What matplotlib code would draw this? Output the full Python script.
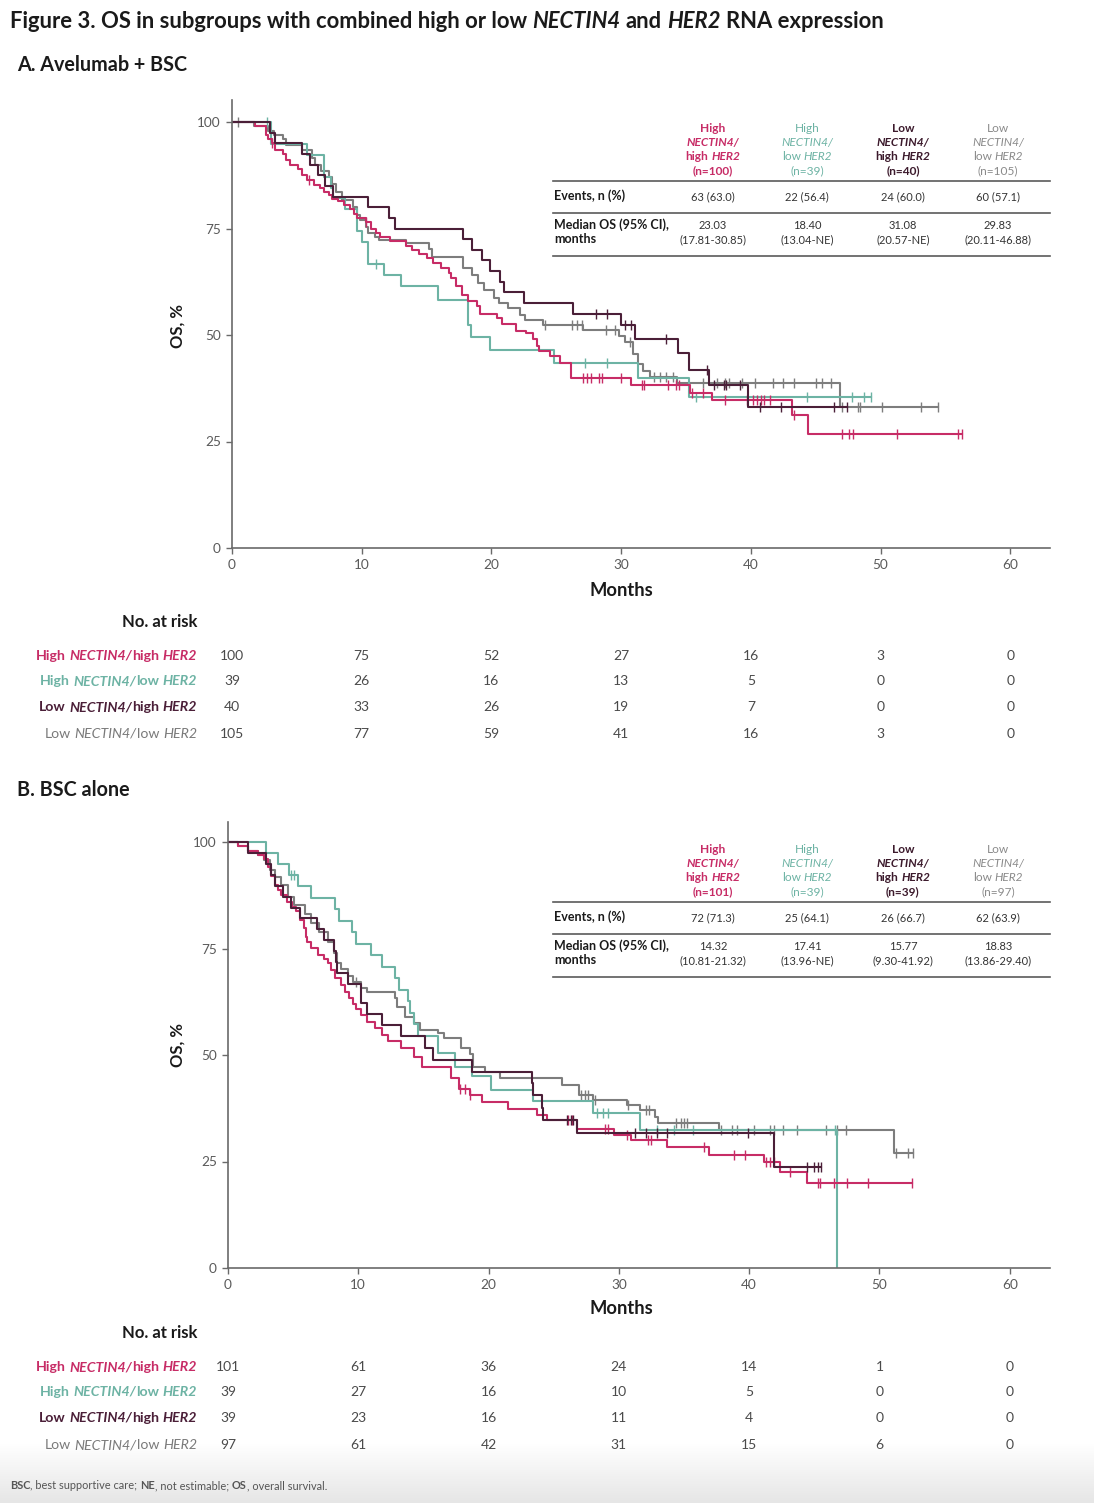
import numpy as np
import matplotlib
matplotlib.use("Agg")
import matplotlib.pyplot as plt
from matplotlib.transforms import IdentityTransform
from matplotlib.lines import Line2D
from matplotlib.colors import LinearSegmentedColormap

W, H = 1094, 1503
FONT = "Lato"

RED, TEAL, DARK, GRAY = "#c72c66", "#6db3a4", "#4b1f38", "#7d7d7d"
HEAD_COLORS = ["#c72c66", "#6db3a4", "#3c1a2c", "#8a8a8a"]
HEAD_WEIGHT = ["b", "", "b", ""]

# ---------------- Panel A (avelumab + BSC) ----------------
A_RED_T = [0, 1.8, 2.6, 2.8, 3.1, 3.3, 3.9, 4.2, 4.5, 5.1, 5.4, 5.8, 6.3, 6.8, 7.1, 7.5, 7.7, 8.2, 8.6, 9.1,
           9.4, 9.6, 10.3, 10.7, 11.1, 11.4, 12.2, 13.4, 13.9, 14.4, 15.0, 15.5, 16.1, 16.7, 16.9, 17.3, 17.7,
           18.2, 18.9, 19.1, 20.4, 20.8, 21.9, 22.7, 23.2, 23.5, 23.7, 24.5, 25.3, 26.1, 30.8, 35.3, 37.0, 43.2, 44.4]
A_RED_S = [100, 99, 97, 96, 95, 93.5, 92.5, 91, 90, 89, 87.5, 86.5, 85.3, 84.5, 83.5, 82.8, 82, 81.5, 80.5, 79.5,
           78.5, 77.5, 76.5, 75, 74, 73, 72, 71, 70, 69, 68, 67, 65.8, 64.5, 63.3, 61.5, 59.5,
           58, 56.8, 55, 54, 52.5, 51, 50.5, 49, 47.5, 46.2, 45, 43.5, 39.8, 38.3, 36.5, 34.7, 31.2, 26.8]
A_RED_CENS = [3.1, 5.9, 10.3, 27.1, 27.4, 27.7, 28.3, 28.5, 30.0, 31.6, 31.8, 33.6, 34.2, 34.5, 35.5, 36.3, 38.0,
              39.7, 40.2, 40.5, 40.8, 41.0, 41.5, 43.3, 47.0, 47.6, 47.9, 51.3, 56.0, 56.3]
A_RED_END = 56.3

A_TEAL_T = [0, 3.0, 5.8, 7.1, 7.6, 7.8, 8.7, 9.6, 10.0, 10.5, 11.7, 13.0, 15.9, 18.2, 18.4, 19.9, 24.8, 31.3, 35.2]
A_TEAL_S = [100, 94.9, 92.3, 87.2, 84.6, 82.1, 79.5, 74.4, 71.8, 66.7, 64.1, 61.5, 58.2, 52.4, 49.6, 46.5, 43.4,
            39.8, 35.5]
A_TEAL_CENS = [2.7, 11.1, 27.2, 28.9, 35.8, 44.3, 47.8, 48.7, 49.3]
A_TEAL_END = 49.3

A_DARK_T = [0, 2.9, 3.3, 5.4, 6.0, 6.6, 7.2, 7.8, 10.5, 12.1, 12.6, 17.8, 18.5, 19.3, 19.9, 20.7, 21.0, 22.5,
            26.3, 30.0, 31.1, 34.4, 35.2, 36.8, 39.8]
A_DARK_S = [100, 97.5, 95, 92.5, 90, 87.5, 85, 82.5, 80, 77.5, 75, 72.5, 70, 67.5, 65, 62.5, 60, 57.5,
            55, 52.3, 49.0, 45.7, 41.8, 38.3, 33.2]
A_DARK_CENS = [28.1, 28.9, 30.3, 30.8, 33.5, 36.6, 37.2, 37.9, 38.1, 39.2, 40.7, 42.3, 46.4, 47.4]
A_DARK_END = 47.4

A_GRAY_T = [0, 1.7, 2.8, 3.2, 3.9, 4.2, 5.4, 6.2, 6.4, 6.9, 7.5, 7.7, 8.0, 8.5, 9.3, 9.6, 9.9, 10.3, 10.5, 11.0,
            11.3, 13.4, 15.2, 15.4, 17.8, 18.5, 19.0, 19.4, 20.2, 20.6, 21.3, 22.2, 22.6, 24.0, 27.1, 29.8, 30.3,
            30.9, 31.3, 31.7, 32.2, 34.3, 46.9]
A_GRAY_S = [100, 99, 98, 97, 96, 94.6, 93.5, 91.5, 90, 88.5, 87.2, 85.5, 83.6, 81.7, 80, 78.2, 77, 75.4, 73.9, 73,
            72.3, 71.5, 70.3, 68.4, 65.7, 64, 62.2, 60.5, 58.7, 57.5, 56.3, 54.7, 53.5, 52.3, 51.2, 49.8, 48.4,
            45.5, 43.2, 41.5, 40.2, 38.7, 33.2]
A_GRAY_CENS = [0.5, 24.1, 26.2, 26.6, 27.0, 28.8, 29.5, 30.7, 32.5, 33.0, 33.5, 34.0, 36.3, 37.4, 38.0, 38.3, 39.3,
               40.3, 41.7, 42.5, 43.3, 45.0, 45.5, 46.2, 47.0, 48.3, 48.4, 50.1, 53.1, 54.4]
A_GRAY_END = 54.4

# ---------------- Panel B (BSC alone) ----------------
B_RED_T = [0, 0.8, 1.5, 2.3, 2.8, 3.1, 3.3, 3.6, 3.8, 4.1, 4.5, 4.9, 5.2, 5.5, 5.8, 6.0, 6.1, 6.4, 6.9, 7.4,
           7.7, 7.9, 8.2, 8.7, 9.0, 9.3, 9.6, 9.8, 10.2, 10.7, 11.3, 11.8, 12.3, 13.3, 14.3, 14.9, 17.1, 17.7,
           18.6, 19.5, 21.5, 23.7, 24.5, 26.8, 29.6, 30.9, 33.7, 36.9, 41.1, 42.4, 44.4]
B_RED_S = [100, 99, 98, 97, 96, 94.2, 92, 90, 88.7, 87.5, 86, 84.8, 83.7, 81.7, 79.7, 77.8, 76.5, 75.1, 73.5, 72.5,
           71.5, 70, 68, 66.4, 64.8, 63.3, 62, 60.9, 59.4, 57.8, 56.3, 54.7, 53.2, 51.6, 49.6, 47.2, 44.5, 42.0,
           40.6, 39.0, 37.3, 35.9, 34.7, 32.6, 31.2, 30.1, 28.5, 26.5, 24.9, 22.6, 19.9]
B_RED_CENS = [17.8, 18.2, 18.6, 26.1, 26.4, 28.9, 29.2, 30.6, 32.2, 32.5, 36.5, 38.8, 39.7, 41.3, 41.6, 41.9,
              43.1, 45.3, 45.4, 46.5, 47.5, 49.1, 52.5]
B_RED_END = 52.5

B_TEAL_T = [0, 2.9, 3.8, 4.7, 5.4, 6.4, 8.2, 8.5, 9.5, 9.8, 11.0, 11.8, 12.8, 13.1, 13.8, 14.0, 14.3, 14.6, 16.1,
            17.4, 18.7, 20.2, 23.4, 28.0, 31.6, 46.7]
B_TEAL_S = [100, 97.4, 94.9, 92.3, 89.6, 86.9, 84.2, 81.5, 78.8, 76.1, 73.4, 70.7, 68.0, 65.3, 62.6, 59.9, 57.2,
            54.5, 50.4, 47.3, 45.0, 41.8, 39.1, 36.3, 32.4, 0]
B_TEAL_CENS = [4.8, 5.1, 28.3, 28.8, 29.2, 32.9, 34.2, 35.7, 46.6]
B_TEAL_END = 46.7

B_DARK_T = [0, 1.5, 2.9, 3.3, 3.6, 4.2, 4.8, 5.5, 6.8, 7.4, 8.1, 8.3, 8.4, 9.2, 10.2, 10.7, 11.8, 13.3, 15.1,
            15.7, 18.7, 23.3, 23.4, 24.1, 24.2, 26.8, 41.9]
B_DARK_S = [100, 97.4, 94.9, 92.3, 89.7, 87.2, 84.6, 82.1, 79.5, 76.9, 74.4, 71.8, 69.2, 66.7, 62.2, 59.7, 57.1,
            54.5, 51.6, 48.8, 46.1, 43.5, 40.5, 37.5, 34.7, 31.6, 23.8]
B_DARK_CENS = [26.0, 26.3, 26.5, 31.2, 32.1, 32.9, 33.7, 39.9, 44.4, 45.0, 45.3, 45.5]
B_DARK_END = 45.5

B_GRAY_T = [0, 0.8, 1.5, 2.3, 2.8, 3.2, 3.6, 4.1, 4.6, 5.1, 5.9, 6.4, 7.0, 7.7, 8.1, 8.4, 8.7, 9.2, 9.6, 10.2,
            10.7, 12.8, 13.0, 13.6, 14.3, 14.7, 16.1, 16.6, 17.9, 18.6, 18.8, 19.7, 20.9, 25.6, 26.9, 28.0, 30.6,
            31.6, 32.8, 33.0, 37.7, 51.1]
B_GRAY_S = [100, 99, 98, 96.9, 95.8, 93.4, 91.9, 90, 87.2, 85.3, 83, 81, 78.9, 76.5, 74, 71.5, 70.3, 68.5, 67.2,
            65.7, 64.9, 63.3, 61.2, 59.0, 57.5, 55.9, 55.1, 53.9, 51.6, 50.2, 47.3, 46.1, 44.5, 43.0, 40.6, 39.4,
            38.3, 37.1, 35.5, 34.0, 32.4, 26.9]
B_GRAY_CENS = [9.8, 27.1, 27.4, 27.6, 28.2, 30.7, 32.1, 32.3, 34.4, 34.8, 35.0, 35.2, 37.8, 38.7, 39.1, 40.4, 41.6,
               41.9, 42.6, 43.7, 45.9, 46.7, 47.4, 51.3, 52.2, 52.6]
B_GRAY_END = 52.6

# ---------------- tables ----------------
RISK_TIMES = [0, 10, 20, 30, 40, 50, 60]
A_RISK = [[100, 75, 52, 27, 16, 3, 0], [39, 26, 16, 13, 5, 0, 0],
          [40, 33, 26, 19, 7, 0, 0], [105, 77, 59, 41, 16, 3, 0]]
B_RISK = [[101, 61, 36, 24, 14, 1, 0], [39, 27, 16, 10, 5, 0, 0],
          [39, 23, 16, 11, 4, 0, 0], [97, 61, 42, 31, 15, 6, 0]]

A_N = [100, 39, 40, 105]
A_EVENTS = ["63 (63.0)", "22 (56.4)", "24 (60.0)", "60 (57.1)"]
A_MEDIAN = ["23.03", "18.40", "31.08", "29.83"]
A_CI = ["(17.81-30.85)", "(13.04-NE)", "(20.57-NE)", "(20.11-46.88)"]

B_N = [101, 39, 39, 97]
B_EVENTS = ["72 (71.3)", "25 (64.1)", "26 (66.7)", "62 (63.9)"]
B_MEDIAN = ["14.32", "17.41", "15.77", "18.83"]
B_CI = ["(10.81-21.32)", "(13.96-NE)", "(9.30-41.92)", "(13.86-29.40)"]

GROUP_HI = ["High", "High", "Low", "Low"]
GROUP_HER = ["high", "low", "high", "low"]

fig = plt.figure(figsize=(W / 100, H / 100), dpi=100)
renderer = fig.canvas.get_renderer()
ID = IdentityTransform()


def _kw(f, size, family):
    return dict(fontsize=size, family=family,
                fontweight="bold" if "b" in f else "normal",
                fontstyle="italic" if "i" in f else "normal")


def _width(s, kw):
    t = fig.text(0, 0, s, transform=ID, **kw)
    w = t.get_window_extent(renderer).width
    t.remove()
    return w


def _measure(parts, size, family):
    out = []
    for s, f in parts:
        kw = _kw(f, size, family)
        sp = _width("x x", kw) - _width("xx", kw)
        core = s.strip()
        lead = (len(s) - len(s.lstrip())) * sp
        trail = (len(s) - len(s.rstrip())) * sp
        w = _width(core, kw) if core else 0
        out.append((core, kw, lead, w, trail))
    return out


def rich(x, y, parts, color="#333", size=9, ha="left", width=None, family=FONT):
    """draw mixed bold/italic text; x, y in pixels from top-left, y is baseline"""
    m = _measure(parts, size, family)
    total = sum(a[2] + a[3] + a[4] for a in m)
    if width:
        size = size * width / total
        m = _measure(parts, size, family)
        total = sum(a[2] + a[3] + a[4] for a in m)
    x0 = x - {"left": 0, "center": total / 2, "right": total}[ha]
    for core, kw, lead, w, trail in m:
        x0 += lead
        if core:
            fig.text(x0, H - y, core, transform=ID, color=color, va="baseline", **kw)
        x0 += w + trail


def hline(x0, x1, y, color="#5a5a5a", lw=1.2):
    fig.add_artist(Line2D([x0, x1], [H - y, H - y], transform=ID, color=color, lw=lw))


def km(ax, t, s, cens, end, color):
    ax.step(list(t) + [end], list(s) + [s[-1]], where="post", color=color, lw=1.5)
    c = np.asarray(cens)
    idx = np.searchsorted(t, c, side="right") - 1
    ax.plot(c, np.asarray(s)[idx], ls="none", marker="|", ms=7, mew=1.0, color=color)


def panel(rect, curves, xmax, ymax):
    ax = fig.add_axes(rect)
    for t, s, c, e, col in curves:
        km(ax, t, s, c, e, col)
    ax.set_xlim(0, xmax)
    ax.set_ylim(0, ymax)
    ax.set_xticks(range(0, 61, 10))
    ax.set_yticks([0, 25, 50, 75, 100])
    for sp in ["top", "right"]:
        ax.spines[sp].set_visible(False)
    for sp in ["left", "bottom"]:
        ax.spines[sp].set_color("#6a6a6a")
        ax.spines[sp].set_linewidth(1.2)
    ax.tick_params(length=4, width=1, color="#6a6a6a", labelcolor="#5a5a5a", labelsize=9.8, pad=4)
    for lab in ax.get_xticklabels() + ax.get_yticklabels():
        lab.set_family(FONT)
    return ax


def header_table(top, n, events, median, ci):
    cols = [713, 807, 903, 998]
    hs = 8.6
    for j, xc in enumerate(cols):
        w = HEAD_WEIGHT[j]
        col = HEAD_COLORS[j]
        rich(xc, top, [(GROUP_HI[j], w)], color=col, size=hs, ha="center")
        rich(xc, top + 14, [("NECTIN4/", w + "i")], color=col, size=hs, ha="center")
        rich(xc, top + 28, [(GROUP_HER[j] + " ", w), ("HER2", w + "i")], color=col, size=hs, ha="center")
        rich(xc, top + 42, [("(n=%d)" % n[j], w)], color=col, size=hs, ha="center")
        rich(xc, top + 68, [(events[j], "")], color="#333", size=8.0, ha="center")
        rich(xc, top + 97, [(median[j], "")], color="#333", size=8.0, ha="center")
        rich(xc, top + 111, [(ci[j], "")], color="#333", size=8.0, ha="center")
    rich(554, top + 68, [("Events, n (%)", "b")], color="#1a1a1a", size=9.0)
    rich(554, top + 97, [("Median OS (95% CI),", "b")], color="#1a1a1a", size=9.0)
    rich(554, top + 111, [("months", "b")], color="#1a1a1a", size=9.0)
    hline(553, 1050, top + 49)
    hline(553, 1050, top + 81)
    hline(553, 1050, top + 124)


def risk_table(ax, top, rows):
    rich(197, top, [("No. at risk", "b")], color="#1a1a1a", size=12, ha="right")
    ys = [top + 33, top + 58, top + 84, top + 111]
    weights = ["b", "b", "b", ""]
    colors = [RED, TEAL, DARK, "#7a7a7a"]
    for i, (y, vals) in enumerate(zip(ys, rows)):
        w = weights[i]
        parts = [(GROUP_HI[i] + " ", w), ("NECTIN4/", w + "i"), (GROUP_HER[i] + " ", w), ("HER2", w + "i")]
        rich(197, y, parts, color=colors[i], size=10.2, ha="right")
        for tm, v in zip(RISK_TIMES, vals):
            xp = ax.transData.transform((tm, 0))[0]
            rich(xp, y, [(str(v), "")], color="#4a4a4a", size=10, ha="center")


# background shading at the foot of the poster
bg = fig.add_axes([0, 0, 1, 60 / H], zorder=-5)
bg.imshow(np.linspace(0, 1, 60)[:, None], aspect="auto", extent=[0, 1, 0, 1],
          cmap=LinearSegmentedColormap.from_list("g", ["#e6e6e6", "#ffffff"]), origin="lower")
bg.axis("off")

# ---- title and panel labels ----
rich(10, 28, [("Figure 3. OS in subgroups with combined high or low ", "b"), ("NECTIN4", "bi"),
              (" and ", "b"), ("HER2", "bi"), (" RNA expression", "b")],
     color="#1a1a1a", size=15, width=874)
rich(17, 71, [("A. Avelumab + BSC", "b")], color="#1a1a1a", size=14.2)
rich(17, 796, [("B. BSC alone", "b")], color="#1a1a1a", size=14.2)

# ---- panel A ----
axA = panel([232 / W, 1 - 548 / H, 818 / W, 448 / H],
            [(A_GRAY_T, A_GRAY_S, A_GRAY_CENS, A_GRAY_END, GRAY),
             (A_TEAL_T, A_TEAL_S, A_TEAL_CENS, A_TEAL_END, TEAL),
             (A_RED_T, A_RED_S, A_RED_CENS, A_RED_END, RED),
             (A_DARK_T, A_DARK_S, A_DARK_CENS, A_DARK_END, DARK)],
            818 / 12.97, 448 / 4.26)
fig.text(178, H - 326, "OS, %", transform=ID, rotation=90, ha="center", va="center",
         fontsize=12, fontweight="bold", family=FONT, color="#1a1a1a")
rich(621, 596, [("Months", "b")], color="#1a1a1a", size=13.2, ha="center")
header_table(132, A_N, A_EVENTS, A_MEDIAN, A_CI)
risk_table(axA, 627, A_RISK)

# ---- panel B ----
axB = panel([228 / W, 1 - 1268 / H, 822 / W, 446 / H],
            [(B_GRAY_T, B_GRAY_S, B_GRAY_CENS, B_GRAY_END, GRAY),
             (B_TEAL_T, B_TEAL_S, B_TEAL_CENS, B_TEAL_END, TEAL),
             (B_RED_T, B_RED_S, B_RED_CENS, B_RED_END, RED),
             (B_DARK_T, B_DARK_S, B_DARK_CENS, B_DARK_END, DARK)],
            822 / 13.03, 446 / 4.26)
fig.text(178, H - 1045, "OS, %", transform=ID, rotation=90, ha="center", va="center",
         fontsize=12, fontweight="bold", family=FONT, color="#1a1a1a")
rich(621, 1314, [("Months", "b")], color="#1a1a1a", size=13.2, ha="center")
header_table(853, B_N, B_EVENTS, B_MEDIAN, B_CI)
risk_table(axB, 1338, B_RISK)

# ---- footnote ----
rich(10, 1489, [("BSC", "b"), (", best supportive care; ", ""), ("NE", "b"), (", not estimable; ", ""),
                ("OS", "b"), (", overall survival.", "")], color="#555", size=7.9)

fig.savefig("out.png", dpi=100)
